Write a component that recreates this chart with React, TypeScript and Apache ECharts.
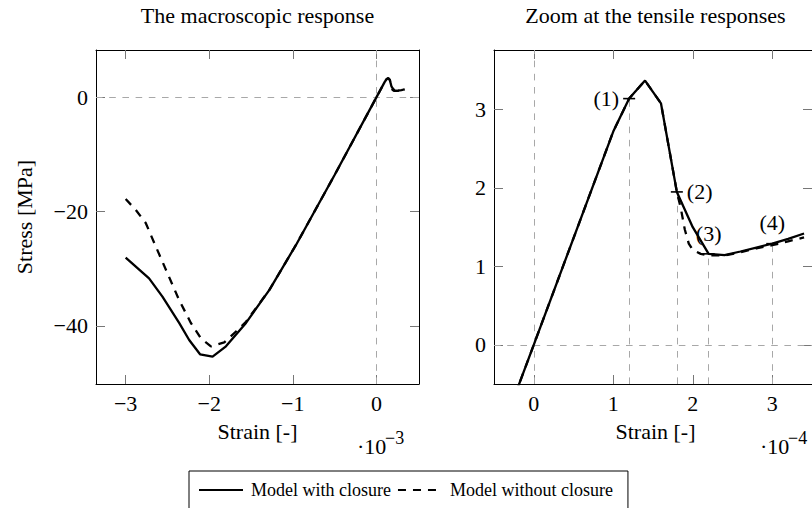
import React, { useEffect, useRef } from "react";
import * as echarts from "echarts";

const FONT = '"Liberation Serif", "Times New Roman", Times, serif';

// Strain in units of 1e-4, stress in MPa
const strainWith = [-30, -27.2, -25.6, -23.6, -22.4, -21.1, -19.6, -18.0, -15.6, -12.8, -9.6, -5, 0, 1.0, 1.2, 1.4, 1.6, 1.8, 2.0, 2.2, 2.4, 2.6, 2.8, 3.0, 3.2, 3.4];
const stressWith = [-28.05, -31.7, -34.9, -39.5, -42.5, -45.0, -45.4, -43.6, -39.5, -33.7, -25.8, -13.6, 0, 2.72, 3.14, 3.37, 3.08, 1.95, 1.5, 1.16, 1.145, 1.19, 1.24, 1.29, 1.35, 1.42];

const strainWithout = [-30, -28.8, -27.6, -26.4, -25.0, -23.6, -22.2, -21.0, -19.8, -18.2, -16.8, -15.6, -12.8, -9.6, -5, 0, 1.0, 1.2, 1.4, 1.6, 1.8, 1.85, 1.9, 1.95, 2.0, 2.1, 2.2, 2.4, 2.6, 2.8, 3.0, 3.2, 3.4];
const stressWithout = [-17.8, -19.7, -22.0, -26.1, -30.8, -35.5, -39.5, -42.2, -43.6, -42.9, -41.0, -39.3, -33.7, -25.8, -13.6, 0, 2.72, 3.14, 3.37, 3.08, 1.95, 1.74, 1.47, 1.29, 1.21, 1.16, 1.14, 1.14, 1.18, 1.23, 1.27, 1.32, 1.37];

// annotated points on the zoomed plot (strain 1e-4, stress MPa)
const markerStrain = [1.2, 1.8, 2.2, 3.0];
const markerStress = [3.14, 1.95, 1.16, 1.29];
const markerLabels = ["(1)", "(2)", "(3)", "(4)"];
const markerLabelPos = ["left", "right", "top", "top"];

const leftXTicks = [-3, -2, -1, 0];
const leftYTicks = [-40, -20, 0];
const rightXTicks = [0, 1, 2, 3];
const rightYTicks = [0, 1, 2, 3];

const titles = ["The macroscopic response", "Zoom at the tensile responses"];
const seriesNames = ["Model with closure", "Model without closure"];

const fmt = (v: number) => (v < 0 ? "\u2212" + Math.abs(v) : String(v));

const GRID_DASH = [6.6, 6.6];
const GRID_COLOR = "#a8a8a8";

function makeAxis(gridIndex: number, position: string, min: number, max: number, ticks: number[], labels: boolean) {
  return {
    type: "value",
    gridIndex,
    position,
    min,
    max,
    axisLine: { show: true, onZero: false, lineStyle: { color: "#000", width: 1 } },
    axisTick: { show: true, inside: true, length: 9, customValues: ticks, lineStyle: { color: "#777", width: 1 } },
    axisLabel: {
      show: labels,
      customValues: ticks,
      margin: 8,
      fontSize: 22,
      fontFamily: FONT,
      color: "#000",
      formatter: fmt,
    },
    splitLine: { show: false },
  };
}

export default function App() {
  const ref = useRef<HTMLDivElement>(null);
  useEffect(() => {
    if (!ref.current) return;
    const chart = echarts.init(ref.current, undefined, { renderer: "svg" });

    const leftWith = strainWith.map((s, i) => [s / 10, stressWith[i]]);
    const leftWithout = strainWithout.map((s, i) => [s / 10, stressWithout[i]]);
    const rightWith = strainWith.map((s, i) => [s, stressWith[i]]);
    const rightWithout = strainWithout.map((s, i) => [s, stressWithout[i]]);

    const guideStyle = { type: GRID_DASH, color: GRID_COLOR, width: 1 };
    const rightGuides: any[] = [{ xAxis: 0 }, { yAxis: 0 }];
    markerStrain.forEach((x, i) => {
      rightGuides.push([{ coord: [x, -0.5] }, { coord: [x, markerStress[i]] }]);
    });

    const solid = { color: "#000", width: 2.3, type: "solid" };
    const dashed = { color: "#000", width: 2.3, type: [8, 7] };

    const txt = (text: string, x: number, y: number, size = 22, align = "center", rotation = 0) => ({
      type: "text", x, y, rotation,
      style: { text, fontSize: size, fontFamily: FONT, fill: "#000", align, verticalAlign: "middle" },
    });

    const option: any = {
      animation: false,
      backgroundColor: "#fff",
      grid: [
        { left: 96, top: 50, width: 323, height: 334 },
        { left: 494, top: 50, width: 323, height: 334 },
      ],
      xAxis: [
        makeAxis(0, "bottom", -3.355, 0.51, leftXTicks, true),
        makeAxis(0, "top", -3.355, 0.51, leftXTicks, false),
        makeAxis(1, "bottom", -0.5, 3.5, rightXTicks, true),
        makeAxis(1, "top", -0.5, 3.5, rightXTicks, false),
      ],
      yAxis: [
        makeAxis(0, "left", -50.2, 8.3, leftYTicks, true),
        makeAxis(0, "right", -50.2, 8.3, leftYTicks, false),
        makeAxis(1, "left", -0.5, 3.76, rightYTicks, true),
        makeAxis(1, "right", -0.5, 3.76, rightYTicks, false),
      ],
      legend: {
        data: seriesNames,
        left: 189,
        top: 471,
        orient: "horizontal",
        borderColor: "#000",
        borderWidth: 1,
        padding: [10, 15, 10, 9],
        itemWidth: 44,
        itemHeight: 18,
        itemGap: 6,
        itemStyle: { opacity: 0 },
        textStyle: { fontSize: 18, fontFamily: FONT, color: "#000", padding: [0, 0, 0, 3] },
      },
      graphic: [
        txt(titles[0], 257.5, 15),
        txt(titles[1], 655.5, 15),
        txt("Stress [MPa]", 24, 217, 22, "center", Math.PI / 2),
        txt("Strain [-]", 257.5, 431.5),
        txt("Strain [-]", 655.5, 431.5),
        txt("\u00b710", 357, 446, 22, "left"),
        txt("\u22123", 385, 438, 18, "left"),
        txt("\u00b710", 760, 446, 22, "left"),
        txt("\u22124", 788, 438, 18, "left"),
      ],
      series: [
        {
          name: seriesNames[0], type: "line", xAxisIndex: 0, yAxisIndex: 0, data: leftWith,
          symbol: "none", lineStyle: solid, itemStyle: { color: "#000" }, z: 3,
        },
        {
          name: seriesNames[1], type: "line", xAxisIndex: 0, yAxisIndex: 0, data: leftWithout,
          symbol: "none", lineStyle: dashed, itemStyle: { color: "#000" }, z: 3,
          markLine: {
            silent: true, symbol: ["none", "none"], z: 1, label: { show: false },
            lineStyle: guideStyle, data: [{ xAxis: 0 }, { yAxis: 0 }],
          },
        },
        {
          name: seriesNames[0], type: "line", xAxisIndex: 2, yAxisIndex: 2, data: rightWith,
          symbol: "none", lineStyle: solid, itemStyle: { color: "#000" }, z: 3,
        },
        {
          name: seriesNames[1], type: "line", xAxisIndex: 2, yAxisIndex: 2, data: rightWithout,
          symbol: "none", lineStyle: dashed, itemStyle: { color: "#000" }, z: 3,
          markLine: {
            silent: true, symbol: ["none", "none"], z: 1, label: { show: false },
            lineStyle: guideStyle, data: rightGuides,
          },
        },
        {
          name: "markers", type: "scatter", xAxisIndex: 2, yAxisIndex: 2, z: 4,
          symbol: "rect", symbolSize: [12, 1.6], itemStyle: { color: "#000", opacity: 1 },
          data: markerStrain.map((x, i) => ({
            value: [x, markerStress[i]],
            label: {
              show: true, formatter: markerLabels[i], position: markerLabelPos[i],
              distance: markerLabelPos[i] === "top" ? 9 : 4,
              fontSize: 22, fontFamily: FONT, color: "#000", opacity: 1,
            },
          })),
        },
      ],
    };
    chart.setOption(option);
    return () => chart.dispose();
  }, []);
  return <div ref={ref} style={{ width: 812, height: 508, position: "absolute", left: 0, top: 0 }} />;
}
